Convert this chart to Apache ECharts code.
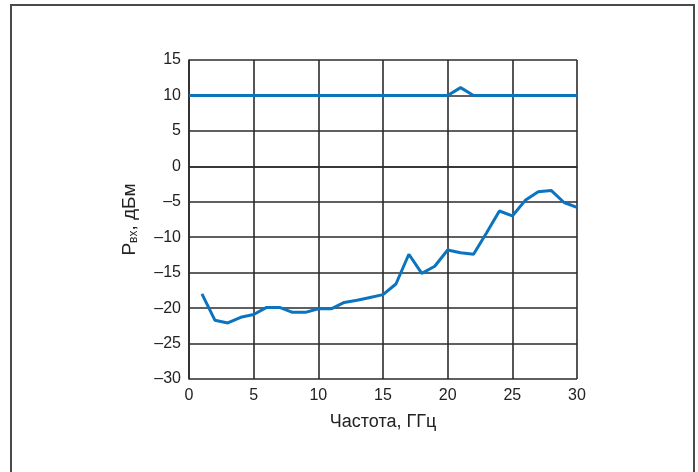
<!DOCTYPE html>
<html>
<head>
<meta charset="utf-8">
<script src="https://cdn.jsdelivr.net/npm/echarts@6/dist/echarts.min.js"></script>
<style>
  html, body { margin: 0; padding: 0; background: #ffffff; }
  #chart { width: 698px; height: 472px; }
</style>
</head>
<body>
<div id="chart"></div>
<script>
// Input power vs. frequency
const freqLow = [1, 2, 3, 4, 5, 6, 7, 8, 9, 10, 11, 12, 13, 14, 15, 16, 17, 18, 19, 20, 21, 22, 23, 24, 25, 26, 27, 28, 29, 30];
const powerLow = [-18, -21.7, -22.1, -21.3, -20.9, -19.9, -19.9, -20.6, -20.6, -20.1, -20.1, -19.2, -18.9, -18.5, -18.1, -16.6, -12.4, -15.1, -14.1, -11.8, -12.2, -12.4, -9.4, -6.3, -7.0, -4.8, -3.6, -3.4, -5.1, -5.8];
const freqHigh = [0, 20, 21, 22, 30];
const powerHigh = [10, 10, 11.1, 10, 10];
const xTicks = { min: 0, max: 30, step: 5 };
const yTicks = { min: -30, max: 15, step: 5 };

const lineColor = '#0b74c0';
const gridColor = '#2b2b2b';
const font = 'Liberation Sans, Arial, sans-serif';

const pairs = (xs, ys) => xs.map((x, i) => [x, ys[i]]);
const minus = v => String(v).replace('-', '\u2013');

const chart = echarts.init(document.getElementById('chart'), null, { renderer: 'canvas' });
chart.setOption({
  animation: false,
  backgroundColor: '#ffffff',
  graphic: [{
    type: 'rect',
    shape: { x: 11, y: 5, width: 683, height: 520 },
    style: { fill: 'none', stroke: '#4a4a4a', lineWidth: 2 },
    z: 100
  }],
  grid: { left: 189, top: 60, width: 388, height: 319, containLabel: false },
  xAxis: {
    type: 'value',
    min: xTicks.min, max: xTicks.max, interval: xTicks.step,
    name: 'Частота, ГГц',
    nameLocation: 'middle',
    nameGap: 34,
    nameTextStyle: { fontFamily: font, fontSize: 18, color: '#222' },
    axisLine: { show: true, lineStyle: { color: gridColor, width: 1.6 } },
    axisTick: { show: false },
    axisLabel: { fontFamily: font, fontSize: 16, color: '#222', margin: 9, formatter: minus },
    splitLine: { show: true, lineStyle: { color: gridColor, width: 1.6 } }
  },
  yAxis: {
    type: 'value',
    min: yTicks.min, max: yTicks.max, interval: yTicks.step,
    name: '{a|Р}{s|вх}{a|, дБм}',
    nameLocation: 'middle',
    nameGap: 49,
    nameRotate: 90,
    nameTextStyle: {
      rich: {
        a: { fontFamily: font, fontSize: 19, color: '#222' },
        s: { fontFamily: font, fontSize: 12, color: '#222', verticalAlign: 'bottom', padding: [8, 0, 0, 0] }
      }
    },
    axisLine: { show: true, lineStyle: { color: gridColor, width: 1.6 } },
    axisTick: { show: false },
    axisLabel: { fontFamily: font, fontSize: 16, color: '#222', margin: 8, formatter: minus },
    splitLine: { show: true, lineStyle: { color: gridColor, width: 1.6 } }
  },
  series: [
    {
      type: 'line',
      data: pairs(freqHigh, powerHigh),
      symbol: 'none',
      lineStyle: { color: lineColor, width: 3 },
      z: 5
    },
    {
      type: 'line',
      data: pairs(freqLow, powerLow),
      symbol: 'none',
      lineStyle: { color: lineColor, width: 3 },
      z: 5
    }
  ]
});
</script>
</body>
</html>
